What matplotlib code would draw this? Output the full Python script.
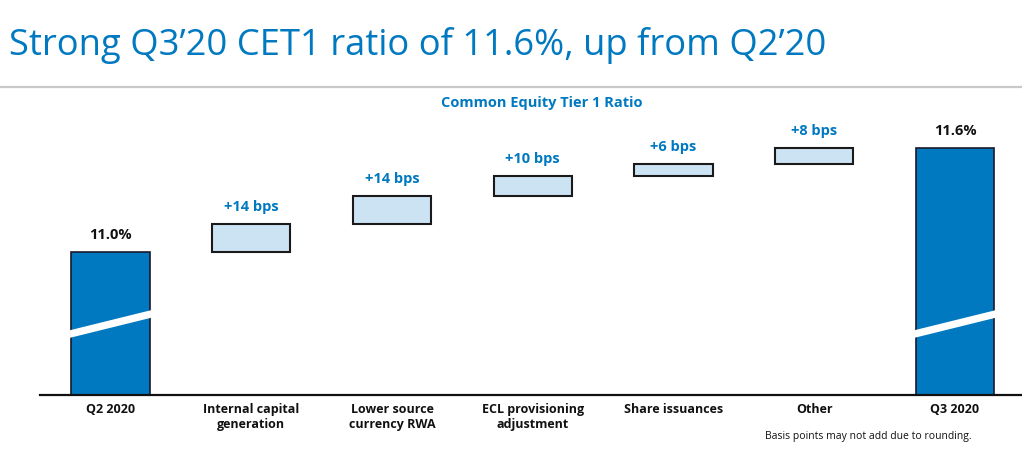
import matplotlib
matplotlib.use("Agg")
import matplotlib.pyplot as plt
from matplotlib import font_manager
from matplotlib.patches import Polygon

# ---- data ----
categories = ["Q2 2020", "Internal capital\ngeneration", "Lower source\ncurrency RWA",
              "ECL provisioning\nadjustment", "Share issuances", "Other", "Q3 2020"]
start_ratio = 11.0          # % CET1 Q2 2020
end_ratio_label = 11.6      # % CET1 Q3 2020 (reported)
steps_bps = [14, 14, 10, 6, 8]
step_labels = ["+14 bps", "+14 bps", "+10 bps", "+6 bps", "+8 bps"]
total_labels = ["11.0%", "11.6%"]

title = "Strong Q3\u201920 CET1 ratio of 11.6%, up from Q2\u201920"
subtitle = "Common Equity Tier 1 Ratio"
footnote = "Basis points may not add due to rounding."

# ---- styles ----
BLUE = "#0079C1"
LIGHT = "#CCE3F4"
names = {f.name for f in font_manager.fontManager.ttflist}
def pick(cands):
    for c in cands:
        if c in names:
            return c
    return "DejaVu Sans"
NARROW = pick(["Liberation Sans Narrow", "Open Sans", "Lato"])
BODY = pick(["Open Sans", "Lato", "Noto Sans"])

W, H = 1022, 459
fig = plt.figure(figsize=(W / 100, H / 100), dpi=100)

def fx(px): return px / W
def fy(py): return 1 - py / H

ax_left, ax_right = 40, 1022
ax_top, ax_bottom = 120, 395
ax = fig.add_axes([fx(ax_left), fy(ax_bottom), fx(ax_right - ax_left), fy(ax_top) - fy(ax_bottom)])

x = list(range(len(categories)))
bar_w = 0.555
ylo = 10.285
px_per_unit = 200.0  # 2 px per bp
yhi = ylo + (ax_bottom - ax_top) / px_per_unit
ax.set_xlim(-0.501, 6.476)
ax.set_ylim(ylo, yhi)

# cumulative levels
cum = [start_ratio]
for s in steps_bps:
    cum.append(cum[-1] + s / 100.0)
end_draw = cum[-1]

ax.bar([x[0], x[-1]], [start_ratio - ylo, end_draw - ylo], bottom=ylo, width=bar_w,
       color=BLUE, edgecolor="#1a1a2a", linewidth=1.2, zorder=2)
for i, s in enumerate(steps_bps):
    ax.bar(x[i + 1], s / 100.0, bottom=cum[i], width=bar_w, color=LIGHT,
           edgecolor="#1a1a1a", linewidth=1.5, zorder=2)
    ax.annotate(step_labels[i], (x[i + 1], cum[i + 1]), xytext=(0, 7), textcoords="offset points",
                ha="center", va="bottom", color=BLUE, fontsize=10.5, fontweight="bold", family=BODY)

for xi, v, lab in [(x[0], start_ratio, total_labels[0]), (x[-1], end_draw, total_labels[1])]:
    ax.annotate(lab, (xi, v), xytext=(0, 7), textcoords="offset points",
                ha="center", va="bottom", color="#111111", fontsize=10.5, fontweight="bold", family=BODY)
    # axis-break stripe
    yl, yr, th = 10.59, 10.69, 0.019
    x0, x1 = xi - bar_w / 2 - 0.01, xi + bar_w / 2 + 0.01
    ax.add_patch(Polygon([(x0, yl - th), (x1, yr - th), (x1, yr + th), (x0, yl + th)],
                         closed=True, facecolor="white", edgecolor="none", zorder=3))

for s in ["top", "right", "left"]:
    ax.spines[s].set_visible(False)
ax.spines["bottom"].set_linewidth(1.6)
ax.spines["bottom"].set_color("#111111")
ax.set_yticks([])
ax.set_xticks(x)
ax.set_xticklabels(categories, fontsize=9, fontweight="bold", family=BODY, color="#111111",
                   linespacing=1.15)
ax.tick_params(axis="x", length=0, pad=6)

# title, subtitle, separator, footnote
fig.text(fx(9), fy(46), title, fontsize=26.2, color=BLUE, family=NARROW, ha="left", va="center")
fig.add_artist(plt.Line2D([0, 1], [fy(87), fy(87)], color="#C8C8C8", lw=1.6, transform=fig.transFigure))
fig.text(fx(542), fy(103), subtitle, fontsize=10.5, color=BLUE, fontweight="bold", family=BODY,
         ha="center", va="center")
fig.text(fx(868), fy(436), footnote, fontsize=7.5, color="#111111", family=BODY, ha="center", va="center")

fig.savefig("out.png", dpi=100)
